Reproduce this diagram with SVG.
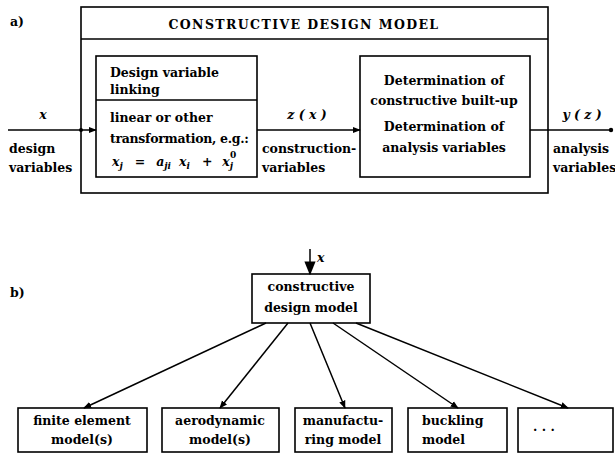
<svg xmlns="http://www.w3.org/2000/svg" width="615" height="455" viewBox="0 0 615 455">
<style>
text{font-family:"DejaVu Serif","Liberation Serif",serif;font-weight:bold;font-size:12.5px;fill:#000}
.m{font-style:italic}
.box{fill:none;stroke:#000;stroke-width:1.6}
.ln{fill:none;stroke:#000;stroke-width:1.5}
.c{text-anchor:middle}
</style>
<defs>
<marker id="ah" viewBox="0 0 10 10" refX="9" refY="5" markerWidth="8" markerHeight="8" markerUnits="userSpaceOnUse" orient="auto"><path d="M0,1 L10,5 L0,9 z" fill="#000"/></marker>
<marker id="ahb" viewBox="0 0 10 10" refX="9" refY="5" markerWidth="14" markerHeight="14" markerUnits="userSpaceOnUse" orient="auto"><path d="M0,1 L10,5 L0,9 z" fill="#000"/></marker>
</defs>
<text x="10" y="26">a)</text>
<text x="10" y="297">b)</text>
<g id="model">
<rect class="box" x="81" y="7" width="467" height="186"/>
<line class="box" x1="81" y1="39" x2="548" y2="39"/>
<text x="304" y="29" class="c" style="letter-spacing:1.4px">CONSTRUCTIVE DESIGN MODEL</text>
</g>
<g id="linking">
<rect class="box" x="96" y="56" width="161" height="121"/>
<line class="box" x1="96" y1="100" x2="257" y2="100"/>
<text x="110" y="77">Design variable</text>
<text x="110" y="94">linking</text>
<text x="110" y="122">linear or other</text>
<text x="110" y="143" style="letter-spacing:-0.3px">transformation, e.g.:</text>
<text x="112" y="166" class="m">x<tspan font-size="9" dy="3">j</tspan><tspan dy="-3" font-style="normal" dx="12">=</tspan><tspan dx="11">a</tspan><tspan font-size="9" dy="3">ji</tspan><tspan dy="-3" dx="8">x</tspan><tspan font-size="9" dy="3">i</tspan><tspan dy="-3" font-style="normal" dx="12">+</tspan><tspan dx="10">x</tspan><tspan font-size="9" dy="3">j</tspan><tspan font-size="9" dx="-3" dy="-11" font-style="normal">0</tspan></text>
</g>
<g id="determination">
<rect class="box" x="360" y="56" width="170" height="121"/>
<text x="444" y="85" class="c">Determination of</text>
<text x="444" y="105" class="c">constructive built-up</text>
<text x="444" y="131" class="c">Determination of</text>
<text x="444" y="152" class="c">analysis variables</text>
</g>
<g id="labels-a">
<text x="43" y="119" class="m c">x</text>
<text x="9" y="153">design</text>
<text x="9" y="172">variables</text>
<text x="307" y="119" class="m c">z ( x )</text>
<text x="262" y="153">construction-</text>
<text x="262" y="172">variables</text>
<text x="582" y="119" class="m c">y ( z )</text>
<text x="553" y="153">analysis</text>
<text x="553" y="172">variables</text>
</g>
<g id="cdm">
<rect class="box" x="252" y="274" width="118" height="49"/>
<text x="311" y="291" class="c">constructive</text>
<text x="311" y="312" class="c">design model</text>
</g>
<g id="fe">
<rect class="box" x="18" y="408" width="129" height="44"/>
<text x="82" y="425" class="c">finite element</text>
<text x="82" y="444" class="c">model(s)</text>
</g>
<g id="aero">
<rect class="box" x="162" y="408" width="117" height="44"/>
<text x="220" y="425" class="c">aerodynamic</text>
<text x="220" y="444" class="c">model(s)</text>
</g>
<g id="manu">
<rect class="box" x="295" y="408" width="97" height="44"/>
<text x="343" y="425" class="c">manufactu-</text>
<text x="343" y="444" class="c">ring model</text>
</g>
<g id="buck">
<rect class="box" x="408" y="408" width="99" height="44"/>
<text x="422" y="425">buckling</text>
<text x="422" y="444">model</text>
</g>
<g id="more">
<rect class="box" x="518" y="408" width="95" height="44"/>
<text x="533" y="431">. . .</text>
</g>
<g id="connectors">
<line class="ln" x1="8" y1="130" x2="96" y2="130" marker-end="url(#ah)"/>
<circle cx="81" cy="130" r="2"/>
<line class="ln" x1="257" y1="130" x2="360" y2="130" marker-end="url(#ah)"/>
<line class="ln" x1="530" y1="130" x2="611" y2="130"/>
<circle cx="611" cy="130" r="2.2"/>
<line class="ln" x1="310" y1="249" x2="310" y2="274" marker-end="url(#ahb)"/>
<text x="317" y="262" class="m" font-size="11">x</text>
<line class="ln" x1="266" y1="323" x2="84" y2="408" marker-end="url(#ah)"/>
<line class="ln" x1="288" y1="323" x2="220" y2="408" marker-end="url(#ah)"/>
<line class="ln" x1="310" y1="323" x2="345" y2="408" marker-end="url(#ah)"/>
<line class="ln" x1="333" y1="323" x2="458" y2="408" marker-end="url(#ah)"/>
<line class="ln" x1="356" y1="323" x2="568" y2="408" marker-end="url(#ah)"/>
</g>
</svg>
